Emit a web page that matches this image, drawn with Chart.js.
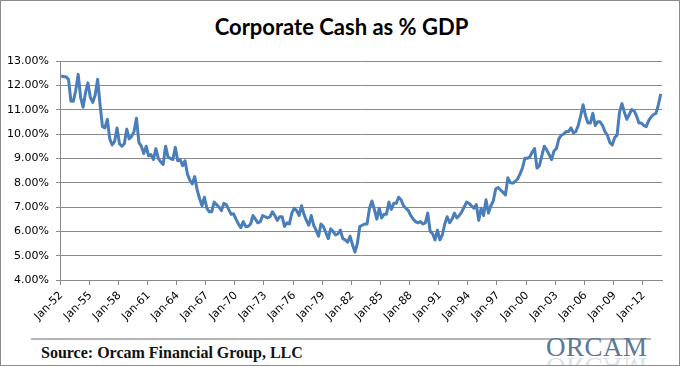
<!DOCTYPE html>
<html>
<head>
<meta charset="utf-8">
<script src="https://cdn.jsdelivr.net/npm/chart.js@4/dist/chart.umd.min.js"></script>
<style>
  html, body { margin: 0; padding: 0; background: #fff; }
  #frame { position: absolute; left: 0; top: 0; width: 678px; height: 364px; border: 1px solid #8c8c8c; overflow: hidden; }
  #title { position: absolute; left: 0; top: 12px; width: 681px; text-align: center; font: bold 22px Lato, "Open Sans", sans-serif; color: #000; }
  #cv { position: absolute; left: 0; top: 0; }
  #sep { position: absolute; left: 30px; top: 337px; width: 620px; height: 0; border-top: 2px solid #b4b4b4; }
  #source { position: absolute; left: 40px; top: 343px; font: bold 16px "Liberation Serif", "Times New Roman", serif; color: #111; }
  .logo { position: absolute; left: 545px; top: 331px; font: 27px "Liberation Serif", serif; letter-spacing: 0.5px; color: #5b7898; }
  #logo2 { top: 350px; opacity: 0.22; transform: scaleY(-1); }
</style>
</head>
<body>
<div id="frame">
  <div id="title">Corporate Cash as % GDP</div>
  <canvas id="cv" width="681" height="330"></canvas>
  <div id="sep"></div>
  <div id="source">Source: Orcam Financial Group, LLC</div>
  <div id="logo2" class="logo">ORCAM</div>
  <div id="logo" class="logo">ORCAM</div>
</div>
<script>
// quarterly corporate cash as % of GDP
const startYear = 1952;
const cash1950s = [12.4,12.35,12.35,12.25, 11.35,11.35,11.8,12.45, 11.5,11.1,11.7,12.1, 11.5,11.3,11.6,12.25,
  11.2,10.3,10.25,10.6, 9.8,9.55,9.7,10.25, 9.6,9.5,9.6,10.2, 9.8,9.9,10.1,10.65];
const cash1960s = [9.65,9.5,9.2,9.5, 9.1,9.15,8.95,9.4, 9.0,8.85,8.75,9.5, 9.05,9.0,8.95,9.45, 8.9,8.95,8.7,8.9,
  8.35,8.1,7.95,8.25, 7.7,7.35,7.05,7.4, 6.95,6.8,6.8,7.2, 7.1,7.0,6.85,7.15, 7.1,6.9,6.7,6.72];
const cash1970s = [6.5,6.3,6.15,6.4, 6.2,6.2,6.3,6.65, 6.5,6.35,6.4,6.65, 6.6,6.55,6.6,6.8, 6.65,6.45,6.6,6.6,
  6.2,6.35,6.3,6.75, 6.95,6.85,6.65,7.05, 6.7,6.45,6.25,6.65, 6.25,6.05,5.8,6.3, 6.2,5.95,5.7,6.1];
const cash1980s = [6.0,5.85,5.9,6.05, 5.7,5.65,5.55,5.8, 5.45,5.15,5.5,6.2, 6.25,6.3,6.3,6.95, 7.25,6.9,6.5,6.95,
  6.55,6.7,6.7,7.2, 6.9,7.15,7.15,7.4, 7.3,7.05,6.95,6.85, 6.65,6.5,6.4,6.35, 6.4,6.3,6.35,6.75];
const cash1990s = [6.0,5.9,5.65,6.05, 5.65,5.85,6.3,6.6, 6.35,6.5,6.75,6.55, 6.65,6.8,7.0,7.2, 7.15,7.05,6.95,7.1,
  6.45,6.95,6.65,7.3, 6.75,7.05,7.25,7.75, 7.8,7.7,7.6,7.5, 8.2,8.0,7.98,8.05, 8.15,8.35,8.6,9.0];
const cash2000s = [9.0,9.05,9.25,9.4, 8.6,8.7,9.1,9.5, 9.35,9.15,8.95,9.3, 9.4,9.8,9.95,10.0, 10.1,10.1,10.25,10.05,
  10.1,10.35,10.75,11.2, 10.75,10.45,10.45,10.85, 10.35,10.5,10.5,10.35, 10.1,9.95,9.65,9.55, 9.85,9.95,10.9,11.25];
const cash2010s = [10.9,10.6,10.8,11.0, 10.95,10.75,10.45,10.45, 10.35,10.3,10.55,10.7, 10.8,10.85,11.2,11.65];
const yTicks = [4, 5, 6, 7, 8, 9, 10, 11, 12, 13];

const cash = [].concat(cash1950s, cash1960s, cash1970s, cash1980s, cash1990s, cash2000s, cash2010s);
const months = ['Jan', 'Apr', 'Jul', 'Oct'];
const labels = cash.map((_, i) => {
  const y = startYear + Math.floor(i / 4);
  return months[i % 4] + '-' + String(y % 100).padStart(2, '0');
});

const gray = '#8a8a8a';
new Chart(document.getElementById('cv'), {
  type: 'line',
  data: {
    labels: labels,
    datasets: [{ data: cash, borderColor: '#4a7ebb', borderWidth: 3, pointRadius: 0, tension: 0,
      borderJoinStyle: 'round', fill: false }]
  },
  options: {
    responsive: false,
    animation: false,
    devicePixelRatio: 1,
    layout: { padding: { left: 0, right: 20, top: 60, bottom: 0 } },
    plugins: { legend: { display: false }, tooltip: { enabled: false } },
    scales: {
      x: {
        type: 'category',
        offset: true,
        afterFit: s => { s.height = 51; },
        grid: {
          offset: true, drawOnChartArea: false, tickLength: 5,
          color: c => (c.index !== undefined && c.index % 12 === 0) ? gray : 'rgba(0,0,0,0)'
        },
        border: { color: gray, width: 1 },
        ticks: {
          autoSkip: false, maxRotation: 45, minRotation: 45, padding: 4,
          color: '#000', font: { family: 'DejaVu Sans', size: 11 },
          callback: (v, i) => i % 12 === 0 ? labels[i] : ''
        }
      },
      y: {
        min: 4, max: 13,
        afterFit: s => { s.width = 59; },
        afterBuildTicks: s => { s.ticks = yTicks.map(v => ({ value: v })); },
        grid: { color: gray, lineWidth: 1, tickLength: 4 },
        border: { color: gray, width: 1 },
        ticks: {
          padding: 7, color: '#000', font: { family: 'DejaVu Sans', size: 11 },
          callback: v => v.toFixed(2) + '%'
        }
      }
    }
  }
});
</script>
</body>
</html>
